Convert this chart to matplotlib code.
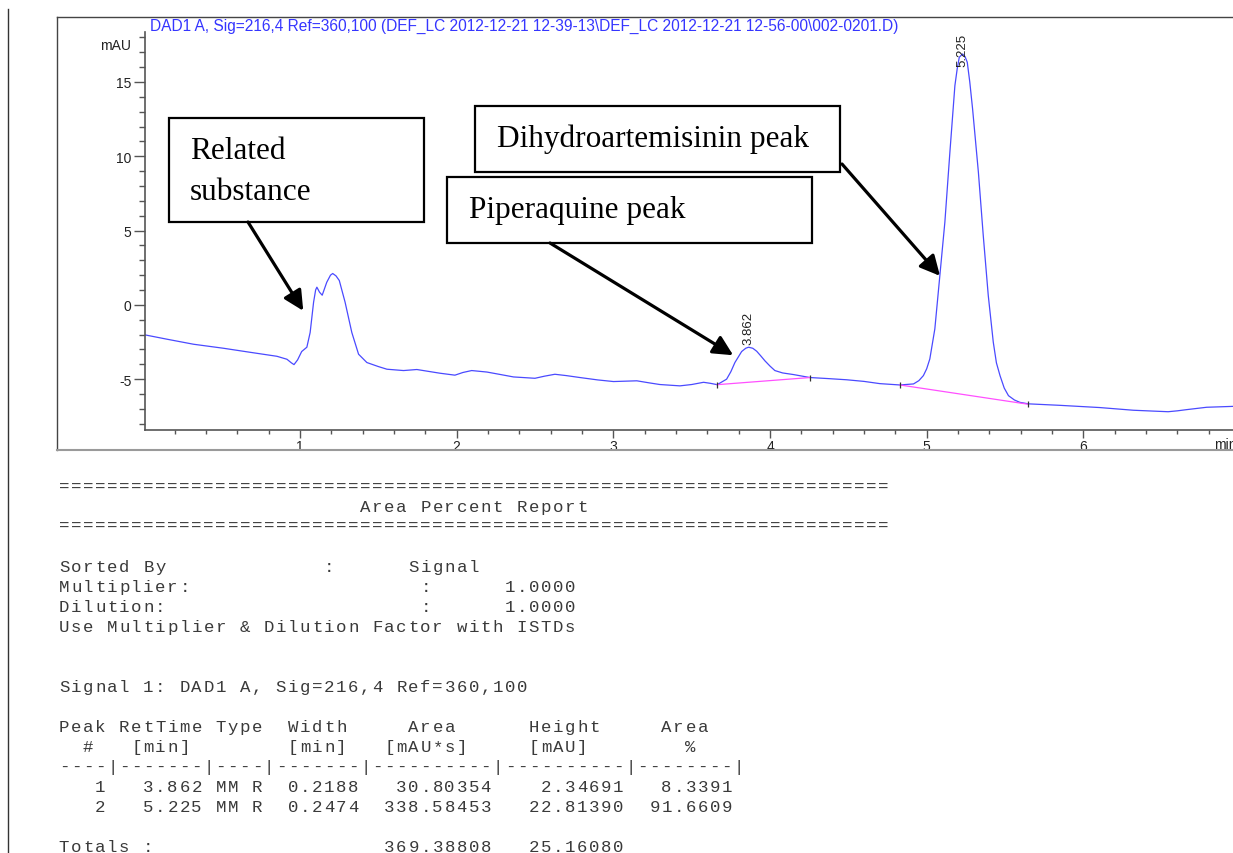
import numpy as np
import matplotlib
matplotlib.use('Agg')
import matplotlib.pyplot as plt
from matplotlib.patches import Rectangle
from matplotlib.ticker import MultipleLocator

# DAD1 A trace (min, mAU)
time_min = [0.011, 0.151, 0.321, 0.512, 0.681, 0.853, 0.917, 0.945, 0.962, 0.985,
            1.011, 1.044, 1.065, 1.087, 1.100, 1.108, 1.125, 1.142, 1.171, 1.195,
            1.209, 1.230, 1.251, 1.288, 1.331, 1.374, 1.427, 1.500, 1.555, 1.661,
            1.746, 1.894, 1.989, 2.040, 2.096, 2.193, 2.276, 2.363, 2.500, 2.560,
            2.627, 2.700, 2.787, 2.900, 3.001, 3.150, 3.230, 3.297, 3.425, 3.500,
            3.576, 3.620, 3.663, 3.723, 3.750, 3.776, 3.819, 3.845, 3.863, 3.890,
            3.915, 3.940, 3.968, 4.000, 4.031, 4.080, 4.150, 4.255, 4.370, 4.489,
            4.600, 4.701, 4.829, 4.916, 4.950, 4.979, 5.000, 5.020, 5.052, 5.084,
            5.116, 5.148, 5.180, 5.195, 5.208, 5.229, 5.245, 5.259, 5.275, 5.293,
            5.330, 5.361, 5.393, 5.425, 5.445, 5.468, 5.495, 5.522, 5.560, 5.595,
            5.649, 5.850, 6.105, 6.318, 6.450, 6.541, 6.600, 6.659, 6.787, 6.955]
signal_mau = [-2.02, -2.31, -2.65, -2.92, -3.19, -3.46, -3.66, -3.90, -4.02, -3.70,
              -3.14, -2.85, -1.86, 0.18, 1.00, 1.19, 0.85, 0.65, 1.52, 2.00,
              2.11, 1.95, 1.64, 0.18, -1.86, -3.32, -3.88, -4.15, -4.33, -4.42,
              -4.35, -4.60, -4.73, -4.55, -4.42, -4.52, -4.68, -4.85, -4.94, -4.80,
              -4.67, -4.76, -4.89, -5.05, -5.16, -5.11, -5.25, -5.36, -5.45, -5.36,
              -5.21, -5.28, -5.37, -5.00, -4.50, -3.88, -3.14, -2.92, -2.85, -2.92,
              -3.12, -3.42, -3.77, -4.12, -4.42, -4.58, -4.69, -4.89, -4.96, -5.04,
              -5.15, -5.30, -5.39, -5.32, -5.10, -4.76, -4.30, -3.64, -1.62, 1.97,
              5.56, 10.26, 14.75, 15.90, 16.66, 16.88, 16.70, 16.32, 15.00, 13.18,
              8.92, 4.67, 0.63, -2.51, -3.90, -4.76, -5.60, -6.11, -6.40, -6.56,
              -6.66, -6.76, -6.91, -7.09, -7.15, -7.19, -7.13, -7.05, -6.89, -6.83]

# integration baselines (start, end) for the two peaks
base1_t = [3.663, 4.255]
base1_v = [-5.37, -4.89]
base2_t = [4.829, 5.649]
base2_v = [-5.39, -6.69]

x_ticks = [1, 2, 3, 4, 5, 6]
y_ticks = [-5, 0, 5, 10, 15]

# area percent report
peak_no = [1, 2]
ret_time = [3.862, 5.225]
peak_type = ['MM R', 'MM R']
peak_width = [0.2188, 0.2474]
peak_area = [30.80354, 338.58453]
peak_height = [2.34691, 22.81390]
area_pct = [8.3391, 91.6609]
total_area = 369.38808
total_height = 25.16080
multiplier = 1.0
dilution = 1.0

signal_desc = 'DAD1 A, Sig=216,4 Ref=360,100'
title = signal_desc + ' (DEF_LC 2012-12-21 12-39-13\\DEF_LC 2012-12-21 12-56-00\\002-0201.D)'

W, H = 1233, 854
plt.rcParams['font.family'] = ['Liberation Sans', 'DejaVu Sans']
plt.rcParams['axes.unicode_minus'] = False


def draw_chrom(fig):
    ax = fig.add_axes([145 / W, 1 - 431 / H, 1 - 145 / W, (431 - 33) / H])
    ax.plot(time_min, signal_mau, color='#4a4aff', lw=0.9)
    ax.plot(base1_t, base1_v, color='#ff50ff', lw=0.9)
    ax.plot(base2_t, base2_v, color='#ff50ff', lw=0.9)
    ax.plot(base1_t + base2_t, base1_v + base2_v, ls='none', marker='|',
            ms=5, mew=0.9, color='#333333')

    label_dy = [0.2, -0.75]
    for rt, dy in zip(ret_time, label_dy):
        apex = np.interp(rt, time_min, signal_mau)
        ax.text(rt, apex + dy, '%.3f' % rt, rotation=90, ha='center',
                va='bottom', fontsize=9.5, color='#222222')

    ax.set_xlim(0.011, 6.955)
    ax.set_ylim(-8.42, 18.36)
    ax.set_xticks(x_ticks)
    ax.set_yticks(y_ticks)
    ax.xaxis.set_minor_locator(MultipleLocator(0.2))
    ax.yaxis.set_minor_locator(MultipleLocator(1))
    for s in ['top', 'right']:
        ax.spines[s].set_visible(False)
    for s in ['left', 'bottom']:
        ax.spines[s].set_color('#555555')
        ax.spines[s].set_linewidth(1.2)
    ax.tick_params(axis='x', which='major', length=5.5, width=1, color='#555555',
                   labelsize=10, labelcolor='#222222', pad=1)
    ax.tick_params(axis='x', which='minor', length=3.1, width=1, color='#555555')
    ax.tick_params(axis='y', which='major', length=7.9, width=1, color='#555555',
                   labelsize=10, labelcolor='#222222', pad=2)
    ax.tick_params(axis='y', which='minor', length=4.3, width=1, color='#555555')
    ax.patch.set_alpha(0)
    return ax


def mono_line(ov, y, s):
    # courier-like report: one glyph per fixed cell
    for i, ch in enumerate(s):
        if ch != ' ':
            ov.text(58 + (i + 0.5) * 12.05, y + 5, ch, ha='center', va='baseline',
                    family='Liberation Mono', fontsize=12.5, color='#3a3a3a')


def main():
    fig = plt.figure(figsize=(W / 100, H / 100), dpi=100)
    ax = draw_chrom(fig)

    ov = fig.add_axes([0, 0, 1, 1])
    ov.set_xlim(0, W)
    ov.set_ylim(H, 0)
    ov.axis('off')
    ov.patch.set_alpha(0)

    # page / frame lines
    ov.plot([8, 8], [10, H], color='#333333', lw=1)
    ov.plot([57, 57], [18, 451], color='#444444', lw=1)
    ov.plot([57, W], [18, 18], color='#444444', lw=1)
    ov.plot([57, W], [451, 451], color='#9a9a9a', lw=1.5)

    ov.text(150, 26, title, color='#3535ff', fontsize=11.2, va='center')
    ov.text(131, 46, 'mAU', ha='right', va='center', fontsize=10, color='#222222')
    ov.text(1214, 445, 'min', va='center', fontsize=10, color='#222222')

    # annotation boxes
    boxes = [(169, 119, 255, 104), (475, 107, 365, 66), (447, 178, 365, 66)]
    for bx, by, bw, bh in boxes:
        ov.add_patch(Rectangle((bx, by), bw, bh, fill=False, ec='black', lw=1.6))
    serif = dict(family=['Liberation Serif', 'DejaVu Serif'], fontsize=22.5,
                 va='baseline', color='black')
    ov.text(190, 159, 'Related', **serif)
    ov.text(190, 200, 'substance', **serif)
    ov.text(497, 146.5, 'Dihydroartemisinin peak', **serif)
    ov.text(469, 218, 'Piperaquine peak', **serif)

    tips = [(1.021, -0.40), (3.765, -3.39), (5.085, 1.95)]
    starts = [(248, 223), (550, 244), (842, 165)]
    for tip, st in zip(tips, starts):
        ov.annotate('', xy=tip, xycoords=ax.transData, xytext=st, textcoords='data',
                    arrowprops=dict(arrowstyle='-|>,head_length=0.6,head_width=0.3',
                                    mutation_scale=20, lw=2.3, color='black',
                                    shrinkA=0, shrinkB=0))

    # report text
    rows = []
    for n, rt, tp, wd, ar, ht, pc in zip(peak_no, ret_time, peak_type, peak_width,
                                         peak_area, peak_height, area_pct):
        rows.append('%4d   %5.3f %s  %6.4f%11.5f%11.5f%9.4f' % (n, rt, tp, wd, ar, ht, pc))
    lines = [
        (487, '=' * 69),
        (507, ' ' * 25 + 'Area Percent Report'),
        (526, '=' * 69),
        (567, 'Sorted By' + ' ' * 13 + ':' + ' ' * 6 + 'Signal'),
        (587, 'Multiplier:' + ' ' * 19 + ':' + ' ' * 6 + '%.4f' % multiplier),
        (607, 'Dilution:' + ' ' * 21 + ':' + ' ' * 6 + '%.4f' % dilution),
        (627, 'Use Multiplier & Dilution Factor with ISTDs'),
        (687, 'Signal 1: ' + signal_desc),
        (727, 'Peak RetTime Type  Width     Area      Height     Area'),
        (747, '  #   [min]        [min]   [mAU*s]     [mAU]        %'),
        (767, '----|-------|----|-------|----------|----------|--------|'),
        (787, rows[0]),
        (807, rows[1]),
        (847, 'Totals :' + ' ' * 17 + '%11.5f%11.5f' % (total_area, total_height)),
    ]
    for y, s in lines:
        mono_line(ov, y, s)

    fig.savefig('out.png', dpi=100)


if __name__ == '__main__':
    main()
